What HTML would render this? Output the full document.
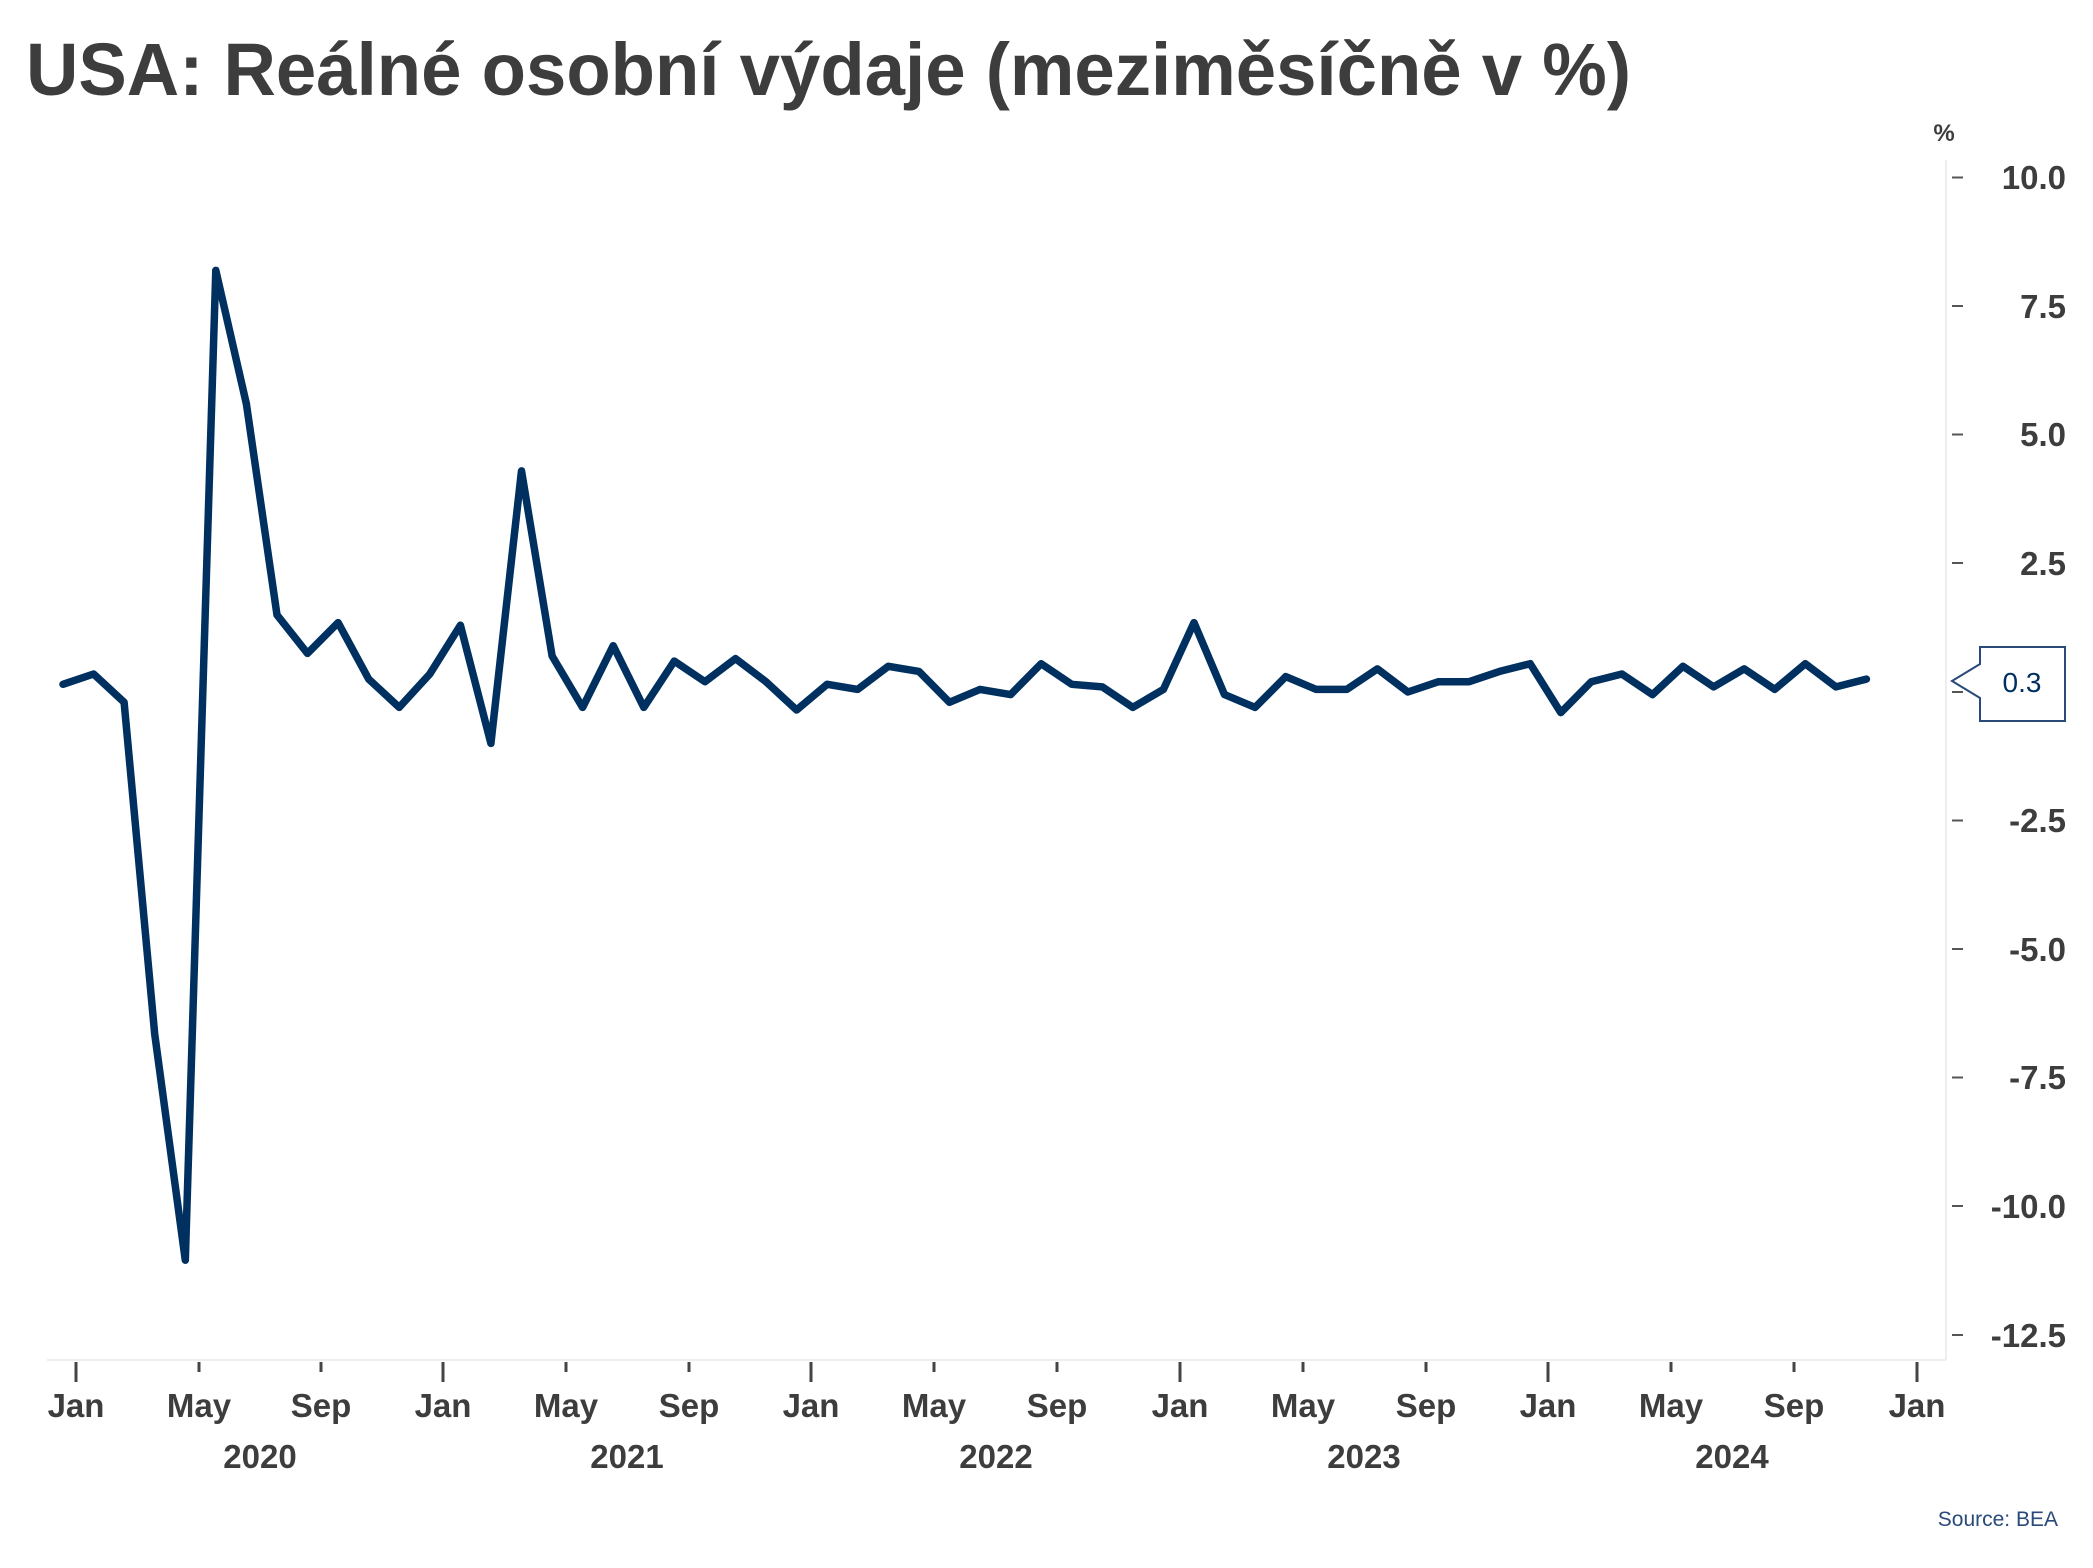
<!DOCTYPE html>
<html><head><meta charset="utf-8"><style>
html,body{margin:0;padding:0;background:#fff}
svg{display:block}
text{font-family:"Liberation Sans",sans-serif}
</style></head><body>
<svg width="2093" height="1568" viewBox="0 0 2093 1568" xmlns="http://www.w3.org/2000/svg">
<text x="26" y="95" font-size="74" font-weight="bold" fill="#3d3d3d" textLength="1605" lengthAdjust="spacingAndGlyphs">USA: Reálné osobní výdaje (meziměsíčně v %)</text>
<text x="1944" y="141" font-size="24" font-weight="bold" fill="#3d3d3d" text-anchor="middle">%</text>
<line x1="1946" y1="160" x2="1946" y2="1360" stroke="#eeeeee" stroke-width="2"/>
<line x1="47" y1="1360" x2="1946" y2="1360" stroke="#eeeeee" stroke-width="2"/>
<g stroke="#555" stroke-width="2">
<line x1="1952" y1="177.5" x2="1963" y2="177.5"/><line x1="1952" y1="306" x2="1963" y2="306"/>
<line x1="1952" y1="434.5" x2="1963" y2="434.5"/><line x1="1952" y1="563" x2="1963" y2="563"/>
<line x1="1952" y1="692" x2="1963" y2="692"/><line x1="1952" y1="820.5" x2="1963" y2="820.5"/>
<line x1="1952" y1="949" x2="1963" y2="949"/><line x1="1952" y1="1077.5" x2="1963" y2="1077.5"/>
<line x1="1952" y1="1206" x2="1963" y2="1206"/><line x1="1952" y1="1335" x2="1963" y2="1335"/>
</g>
<g font-size="33" font-weight="bold" fill="#3d3d3d" text-anchor="end">
<text x="2066" y="189">10.0</text><text x="2066" y="318">7.5</text><text x="2066" y="446">5.0</text>
<text x="2066" y="575">2.5</text><text x="2066" y="832">-2.5</text><text x="2066" y="961">-5.0</text>
<text x="2066" y="1089">-7.5</text><text x="2066" y="1218">-10.0</text><text x="2066" y="1347">-12.5</text>
</g>
<g stroke="#444" stroke-width="3">
<line x1="76" y1="1362" x2="76" y2="1382"/><line x1="199" y1="1362" x2="199" y2="1372"/><line x1="321" y1="1362" x2="321" y2="1372"/>
<line x1="443" y1="1362" x2="443" y2="1382"/><line x1="566" y1="1362" x2="566" y2="1372"/><line x1="689" y1="1362" x2="689" y2="1372"/>
<line x1="811" y1="1362" x2="811" y2="1382"/><line x1="934" y1="1362" x2="934" y2="1372"/><line x1="1057" y1="1362" x2="1057" y2="1372"/>
<line x1="1180" y1="1362" x2="1180" y2="1382"/><line x1="1303" y1="1362" x2="1303" y2="1372"/><line x1="1426" y1="1362" x2="1426" y2="1372"/>
<line x1="1548" y1="1362" x2="1548" y2="1382"/><line x1="1671" y1="1362" x2="1671" y2="1372"/><line x1="1794" y1="1362" x2="1794" y2="1372"/>
<line x1="1917" y1="1362" x2="1917" y2="1382"/>
</g>
<g font-size="33" font-weight="bold" fill="#3d3d3d" text-anchor="middle">
<text x="76" y="1417">Jan</text><text x="199" y="1417">May</text><text x="321" y="1417">Sep</text>
<text x="443" y="1417">Jan</text><text x="566" y="1417">May</text><text x="689" y="1417">Sep</text>
<text x="811" y="1417">Jan</text><text x="934" y="1417">May</text><text x="1057" y="1417">Sep</text>
<text x="1180" y="1417">Jan</text><text x="1303" y="1417">May</text><text x="1426" y="1417">Sep</text>
<text x="1548" y="1417">Jan</text><text x="1671" y="1417">May</text><text x="1794" y="1417">Sep</text>
<text x="1917" y="1417">Jan</text>
<text x="260" y="1468">2020</text><text x="627" y="1468">2021</text><text x="996" y="1468">2022</text>
<text x="1364" y="1468">2023</text><text x="1732" y="1468">2024</text>
</g>
<text x="2058" y="1526" font-size="21" fill="#2a4a7a" text-anchor="end">Source: BEA</text>
<polyline fill="none" stroke="#00305f" stroke-width="7.5" stroke-linejoin="round" stroke-linecap="round" points="
63,684.3 93.6,674 124.1,702.3 154.7,1034 185.3,1260.2 215.8,270.4 246.4,404 277,614.9 307.5,653.4 338.1,622.6 368.7,679.1 399.2,707.4 429.8,674 460.4,625.2 490.9,743.4 521.5,470.9 552.1,656 582.6,707.4 613.2,645.7 643.8,707.4 674.3,661.1 704.9,681.7 735.5,658.6 766,681.7 796.6,710 827.2,684.3 857.7,689.4 888.3,666.3 918.9,671.4 949.4,702.3 980,689.4 1010.6,694.6 1041.1,663.7 1071.7,684.3 1102.3,686.9 1132.8,707.4 1163.4,689.4 1194,622.6 1224.5,694.6 1255.1,707.4 1285.7,676.6 1316.2,689.4 1346.8,689.4 1377.4,668.9 1407.9,692 1438.5,681.7 1469.1,681.7 1499.6,671.4 1530.2,663.7 1560.8,712.6 1591.3,681.7 1621.9,674 1652.5,694.6 1683,666.3 1713.6,686.9 1744.2,668.9 1774.7,689.4 1805.3,663.7 1835.9,686.9 1866.4,679.1"/>
<path d="M1952,681 L1980,664 L1980,647 L2065,647 L2065,721 L1980,721 L1980,698 Z" fill="#fff" stroke="#2a4a7a" stroke-width="2"/>
<text x="2022" y="692" font-size="28" fill="#00305f" text-anchor="middle">0.3</text>
</svg>
</body></html>
